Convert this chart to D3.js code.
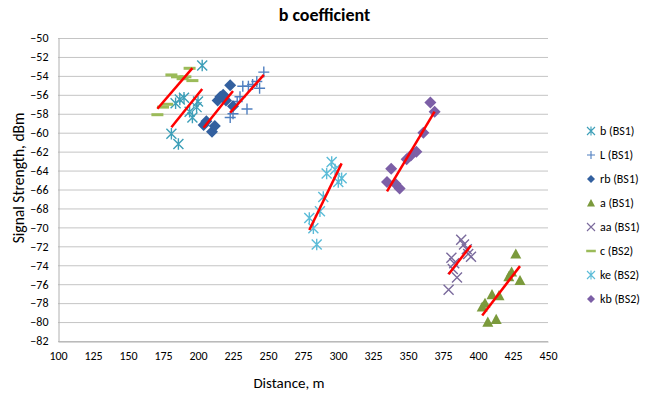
<!DOCTYPE html>
<html>
<head>
<meta charset="utf-8">
<script src="https://cdn.jsdelivr.net/npm/d3@7"></script>
<style>
  body { margin: 0; background: #fff; }
  text { font-family: Carlito, Lato, "Liberation Sans", sans-serif; fill: #000; }
</style>
</head>
<body>
<svg id="chart" width="649" height="396"></svg>
<script>
// Axis ticks
const xTicks = [100, 125, 150, 175, 200, 225, 250, 275, 300, 325, 350, 375, 400, 425, 450];
const yTicks = [-50, -52, -54, -56, -58, -60, -62, -64, -66, -68, -70, -72, -74, -76, -78, -80, -82];

// Series: distance (m) and signal strength (dBm)
const bDist  = [181, 184, 186, 187, 190, 194, 196, 199, 200, 203];
const bSig   = [-60.1, -56.9, -61.2, -56.5, -56.3, -57.8, -58.4, -57.3, -56.7, -52.9];

const lDist  = [223, 225, 228, 230, 232, 235, 236, 239, 242, 244, 247];
const lSig   = [-58.4, -58.0, -56.7, -56.2, -55.1, -57.5, -55.1, -54.9, -54.6, -55.3, -53.6];

const rbDist = [204, 206, 210, 212, 214, 216, 218, 220, 223, 225];
const rbSig  = [-59.2, -58.8, -59.9, -59.3, -56.6, -56.2, -56.0, -56.6, -55.0, -57.2];

const aDist  = [403, 405, 407, 410, 413, 415, 422, 424, 427, 430];
const aSig   = [-78.4, -78.0, -80.0, -77.1, -79.7, -77.2, -75.2, -74.7, -72.8, -75.6];

const aaDist = [379, 381, 382, 383, 385, 388, 390, 392, 393, 395];
const aaSig  = [-76.6, -73.2, -74.4, -73.8, -75.3, -71.3, -71.8, -72.3, -72.8, -73.1];

const cDist  = [171, 175, 178, 181, 185, 189, 191, 194, 196];
const cSig   = [-58.1, -57.3, -57.0, -53.9, -54.1, -54.3, -54.1, -53.2, -54.5];

const keDist = [279.5, 282.4, 284.8, 287.1, 289.5, 291.9, 295.5, 297.9, 300.2, 302.6];
const keSig  = [-69.0, -70.1, -71.8, -68.3, -66.8, -64.3, -63.1, -63.9, -65.2, -64.8];

const kbDist = [335, 338, 341, 344, 349, 352, 356, 361, 366, 369];
const kbSig  = [-65.2, -63.8, -65.4, -65.9, -62.8, -62.4, -62.0, -60.0, -56.8, -57.8];

const seriesNames = ["b (BS1)", "L (BS1)", "rb (BS1)", "a (BS1)", "aa (BS1)", "c (BS2)", "ke (BS2)", "kb (BS2)"];

const series = [
  { name: seriesNames[0], dist: bDist,  sig: bSig,  marker: "star",     color: "#3d9fb8" },
  { name: seriesNames[1], dist: lDist,  sig: lSig,  marker: "plus",     color: "#4f7fc0" },
  { name: seriesNames[2], dist: rbDist, sig: rbSig, marker: "diamond",  color: "#33609f" },
  { name: seriesNames[3], dist: aDist,  sig: aSig,  marker: "triangle", color: "#7b9a3c" },
  { name: seriesNames[4], dist: aaDist, sig: aaSig, marker: "x",        color: "#7a6a9c" },
  { name: seriesNames[5], dist: cDist,  sig: cSig,  marker: "dash",     color: "#9bbb59" },
  { name: seriesNames[6], dist: keDist, sig: keSig, marker: "star",     color: "#5bbcd8" },
  { name: seriesNames[7], dist: kbDist, sig: kbSig, marker: "diamond",  color: "#7c5fa6" }
];

const svg = d3.select("#chart");
const W = 649, H = 396;
const plot = { left: 58, right: 548, top: 38, bottom: 341 };
const fontStack = "Carlito, Lato, 'Liberation Sans', sans-serif";

const x = d3.scaleLinear().domain([100, 450]).range([plot.left, plot.right]);
const y = d3.scaleLinear().domain([-82, -50]).range([plot.bottom, plot.top]);

// Horizontal gridlines
svg.append("g")
  .selectAll("line")
  .data(yTicks)
  .join("line")
  .attr("x1", plot.left).attr("x2", plot.right)
  .attr("y1", d => y(d) + 0.5).attr("y2", d => y(d) + 0.5)
  .attr("stroke", "#c4c4c4").attr("stroke-width", 1);

// Axes
const yAxis = d3.axisLeft(y).tickValues(yTicks).tickSize(0).tickPadding(10);
const gy = svg.append("g").attr("transform", `translate(${plot.left + 0.5},0)`).call(yAxis);
gy.select(".domain").attr("stroke", "#b0b0b0");
gy.selectAll("text").attr("font-size", 12).style("font-family", fontStack);

const xAxis = d3.axisBottom(x).tickValues(xTicks).tickSize(0).tickPadding(10);
const gx = svg.append("g").attr("transform", `translate(0,${plot.bottom + 0.5})`).call(xAxis);
gx.select(".domain").attr("stroke", "#b0b0b0");
gx.selectAll("text").attr("font-size", 12).style("font-family", fontStack);

// Marker shapes
function markerPath(type, s) {
  const h = s / 2;
  switch (type) {
    case "diamond":  return `M0,${-h}L${h},0L0,${h}L${-h},0Z`;
    case "triangle": return `M0,${-h}L${h},${h * 0.85}L${-h},${h * 0.85}Z`;
    case "plus":     return `M${-h},0H${h}M0,${-h}V${h}`;
    case "x":        return `M${-h},${-h}L${h},${h}M${-h},${h}L${h},${-h}`;
    case "star":     return `M${-h},${-h}L${h},${h}M${-h},${h}L${h},${-h}M0,${-h * 1.15}V${h * 1.15}`;
    case "dash":     return `M${-h * 1.2},0H${h * 1.2}`;
  }
}
function styleMarker(sel, s) {
  const filled = s.marker === "diamond" || s.marker === "triangle";
  sel.attr("fill", filled ? s.color : "none")
     .attr("stroke", s.color)
     .attr("stroke-width", filled ? 0 : (s.marker === "dash" ? 3 : 1.4));
}
const markerSize = { diamond: 12, triangle: 11, plus: 11, x: 10, star: 10, dash: 10 };

// Points
series.forEach(s => {
  const pts = s.dist.map((d, i) => [d, s.sig[i]]);
  svg.append("g")
    .selectAll("path")
    .data(pts)
    .join("path")
    .attr("transform", d => `translate(${x(d[0])},${y(d[1])})`)
    .attr("d", markerPath(s.marker, markerSize[s.marker]))
    .call(sel => styleMarker(sel, s));
});

// Linear trendlines (least squares) across each series' distance range
const trend = svg.append("g");
series.forEach(s => {
  const n = s.dist.length;
  const mx = d3.mean(s.dist), my = d3.mean(s.sig);
  let sxy = 0, sxx = 0;
  for (let i = 0; i < n; i++) {
    sxy += (s.dist[i] - mx) * (s.sig[i] - my);
    sxx += (s.dist[i] - mx) ** 2;
  }
  const slope = sxy / sxx, icpt = my - slope * mx;
  const [x0, x1] = d3.extent(s.dist);
  trend.append("line")
    .attr("x1", x(x0)).attr("y1", y(icpt + slope * x0))
    .attr("x2", x(x1)).attr("y2", y(icpt + slope * x1))
    .attr("stroke", "#ff0000").attr("stroke-width", 2.5);
});

// Legend
const legend = svg.append("g").attr("transform", "translate(591,131)");
series.forEach((s, i) => {
  const g = legend.append("g").attr("transform", `translate(0,${i * 24})`);
  g.append("path").attr("d", markerPath(s.marker, 8)).call(sel => styleMarker(sel, s))
    .attr("stroke-width", s.marker === "dash" ? 2.5 : (s.marker === "diamond" || s.marker === "triangle" ? 0 : 1.1));
  g.append("text").attr("x", 9).attr("y", 4).attr("font-size", 12).text(s.name);
});

// Titles
svg.append("text").attr("x", W / 2).attr("y", 21).attr("text-anchor", "middle")
  .attr("font-size", 18).attr("font-weight", "bold").text("b coefficient");
svg.append("text").attr("x", x(265)).attr("y", 388).attr("text-anchor", "middle")
  .attr("font-size", 15).text("Distance, m");
svg.append("text").attr("transform", "translate(24,178) rotate(-90)")
  .attr("text-anchor", "middle").attr("font-size", 15.5).text("Signal Strength, dBm");
</script>
</body>
</html>
